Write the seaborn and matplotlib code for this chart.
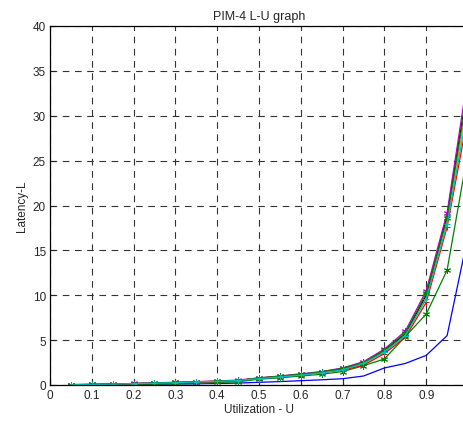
#!/usr/bin/env python3
"""
PIM-4 L-U 그래프 재현
"""

import numpy as np
import pandas as pd
import matplotlib
matplotlib.use('Agg')
import matplotlib.pyplot as plt
import seaborn as sns

# 이용률 (x축)
utilization = [0.05, 0.10, 0.15, 0.20, 0.25, 0.30, 0.35, 0.40, 0.45, 0.50,
               0.55, 0.60, 0.65, 0.70, 0.75, 0.80, 0.85, 0.90, 0.95, 1.00]

# 각 시리즈의 지연시간 값
latency_blue = [0.02, 0.04, 0.05, 0.07, 0.09, 0.11, 0.14, 0.17, 0.21, 0.30,
                0.38, 0.48, 0.58, 0.70, 1.00, 1.90, 2.40, 3.30, 5.50, 16.6]
latency_green_low = [0.02, 0.03, 0.05, 0.07, 0.10, 0.13, 0.15, 0.30, 0.35, 0.65,
                     0.80, 1.00, 1.20, 1.50, 2.15, 2.90, 5.40, 7.90, 12.8, 26.0]
latency_red = [0.03, 0.05, 0.10, 0.15, 0.20, 0.25, 0.30, 0.40, 0.50, 0.75,
               0.95, 1.15, 1.40, 1.65, 2.20, 3.50, 5.30, 9.20, 17.6, 30.0]
latency_cyan = [0.04, 0.06, 0.10, 0.15, 0.20, 0.25, 0.35, 0.40, 0.50, 0.70,
                0.90, 1.10, 1.35, 1.70, 2.40, 3.70, 5.50, 9.60, 17.9, 31.0]
latency_magenta = [0.05, 0.07, 0.12, 0.17, 0.25, 0.30, 0.38, 0.45, 0.55, 0.80,
                   1.00, 1.25, 1.50, 1.90, 2.60, 4.00, 6.00, 10.5, 19.2, 34.5]
latency_green = [0.04, 0.06, 0.11, 0.16, 0.22, 0.28, 0.35, 0.42, 0.50, 0.78,
                 0.98, 1.20, 1.45, 1.85, 2.50, 3.90, 5.80, 10.2, 18.6, 33.0]
latency_black = [0.04, 0.06, 0.10, 0.15, 0.21, 0.27, 0.33, 0.41, 0.50, 0.76,
                 0.96, 1.18, 1.42, 1.80, 2.45, 3.80, 5.70, 10.0, 18.9, 33.5]
latency_yellow = [0.03, 0.05, 0.10, 0.15, 0.20, 0.26, 0.32, 0.40, 0.48, 0.74,
                  0.94, 1.16, 1.40, 1.75, 2.35, 3.65, 5.50, 9.70, 18.2, 32.0]

x_ticks = [0, 0.1, 0.2, 0.3, 0.4, 0.5, 0.6, 0.7, 0.8, 0.9]
x_tick_labels = ['0', '0.1', '0.2', '0.3', '0.4', '0.5', '0.6', '0.7', '0.8', '0.9']
y_ticks = [0, 5, 10, 15, 20, 25, 30, 35, 40]

# MATLAB 스타일 별표 마커
ASTER = (6, 2, 0)

series = [
    ('yellow', latency_yellow, 'y', None),
    ('black', latency_black, 'k', None),
    ('blue', latency_blue, 'b', None),
    ('green_low', latency_green_low, 'g', ASTER),
    ('red', latency_red, 'r', '+'),
    ('magenta', latency_magenta, 'm', ASTER),
    ('green', latency_green, 'g', ASTER),
    ('cyan', latency_cyan, 'c', '+'),
]

sns.set_style('ticks')
plt.rcParams['font.family'] = ['Liberation Sans', 'DejaVu Sans']
plt.rcParams['font.size'] = 8.5

fig = plt.figure(figsize=(4.64, 4.27), dpi=100)
W, H = 464, 427
# 오른쪽 축선은 그림 밖으로 잘림 (원본처럼)
ax = fig.add_axes([50 / W, (H - 386) / H, 418 / W, 359 / H])

for name, vals, color, marker in series:
    df = pd.DataFrame({'U': utilization, 'L': vals})
    sns.lineplot(data=df, x='U', y='L', ax=ax, color=color, linewidth=0.9,
                 marker=marker, markersize=5, markeredgewidth=0.7,
                 markeredgecolor=color, legend=False)

ax.set_xlim(0, 1)
ax.set_ylim(0, 40)
ax.set_xticks(x_ticks)
ax.set_xticklabels(x_tick_labels)
ax.set_yticks(y_ticks)

ax.grid(True, color='#333333', linestyle=(0, (6, 5)), linewidth=0.8)
ax.tick_params(direction='in', length=4, width=0.8, labelsize=8.5, pad=3,
               top=False, right=False)
for side in ['top', 'bottom', 'left', 'right']:
    ax.spines[side].set_color('black')
    ax.spines[side].set_linewidth(0.9)

ax.set_title('PIM-4 L-U graph', fontsize=9, pad=5)
ax.set_xlabel('Utilization - U', fontsize=8.5, labelpad=1)
ax.set_ylabel('Latency-L', fontsize=8.5, labelpad=3)

plt.savefig('out.png', dpi=100)
